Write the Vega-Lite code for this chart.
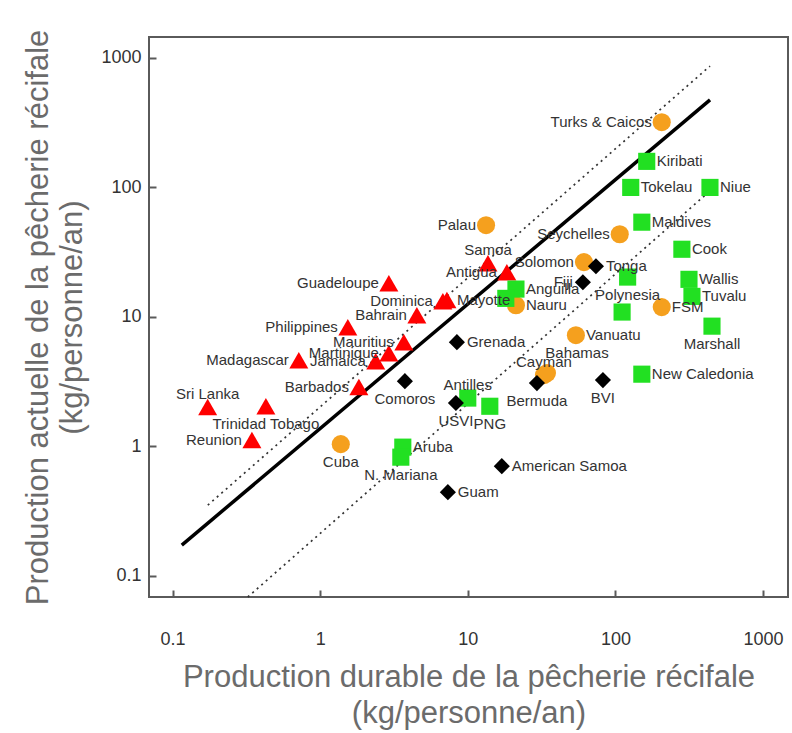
{
  "$schema": "https://vega.github.io/schema/vega-lite/v6.json",
  "width": 639,
  "height": 560,
  "autosize": {"type": "none"},
  "padding": {"left": 149, "top": 37, "right": 4, "bottom": 136},
  "background": "white",
  "config": {
    "view": {"stroke": "#5a5a5a", "strokeWidth": 2},
    "font": "Liberation Sans",
    "axis": {
      "grid": false, "domain": false,
      "tickColor": "#5a5a5a", "tickWidth": 2, "tickSize": -7,
      "labelFont": "Liberation Sans", "labelFontSize": 18, "labelColor": "#333333",
      "labelFlush": false, "labelOverlap": false,
      "titleFont": "Liberation Sans", "titleFontSize": 31, "titleFontWeight": "normal", "titleColor": "#6b6b6b"
    }
  },
  "datasets": {
    "pts": [
      {"name": "Guadeloupe", "group": "A", "x": 2.92, "y": 18.2, "pos": "left"},
      {"name": "Dominica", "group": "A", "x": 6.78, "y": 13.2, "pos": "left"},
      {"name": "Mayotte", "group": "A", "x": 7.22, "y": 13.5, "pos": "right"},
      {"name": "Bahrain", "group": "A", "x": 4.52, "y": 10.3, "pos": "left"},
      {"name": "Philippines", "group": "A", "x": 1.54, "y": 8.33, "pos": "left"},
      {"name": "Mauritius", "group": "A", "x": 3.69, "y": 6.38, "pos": "left"},
      {"name": "Martinique", "group": "A", "x": 2.92, "y": 5.24, "pos": "left"},
      {"name": "Jamaica", "group": "A", "x": 2.38, "y": 4.55, "pos": "left"},
      {"name": "Madagascar", "group": "A", "x": 0.717, "y": 4.63, "pos": "left"},
      {"name": "Barbados", "group": "A", "x": 1.83, "y": 2.87, "pos": "left"},
      {"name": "Sri Lanka", "group": "A", "x": 0.173, "y": 2.01, "pos": "above"},
      {"name": "Trinidad Tobago", "group": "A", "x": 0.429, "y": 2.04, "pos": "below"},
      {"name": "Reunion", "group": "A", "x": 0.345, "y": 1.12, "pos": "left"},
      {"name": "Samoa", "group": "A", "x": 13.7, "y": 26.0, "pos": "above"},
      {"name": "Antigua", "group": "A", "x": 18.4, "y": 22.1, "pos": "left"},
      {"name": "Turks & Caicos", "group": "B", "x": 206, "y": 319, "pos": "left"},
      {"name": "Palau", "group": "B", "x": 13.3, "y": 51.1, "pos": "left"},
      {"name": "Seychelles", "group": "B", "x": 107, "y": 43.5, "pos": "left"},
      {"name": "Solomon", "group": "B", "x": 61.2, "y": 26.5, "pos": "left"},
      {"name": "Nauru", "group": "B", "x": 21.2, "y": 12.3, "pos": "right"},
      {"name": "FSM", "group": "B", "x": 206, "y": 11.9, "pos": "right"},
      {"name": "Vanuatu", "group": "B", "x": 54.0, "y": 7.22, "pos": "right"},
      {"name": "Cayman", "group": "B", "x": 32.8, "y": 3.55, "pos": "above"},
      {"name": "Bahamas", "group": "B", "x": 34.4, "y": 3.68, "pos": "aboveright"},
      {"name": "Cuba", "group": "B", "x": 1.38, "y": 1.04, "pos": "below"},
      {"name": "Kiribati", "group": "C", "x": 163, "y": 159, "pos": "right"},
      {"name": "Tokelau", "group": "C", "x": 127, "y": 100, "pos": "right"},
      {"name": "Niue", "group": "C", "x": 437, "y": 100, "pos": "right"},
      {"name": "Maldives", "group": "C", "x": 151, "y": 53.9, "pos": "right"},
      {"name": "Cook", "group": "C", "x": 282, "y": 33.3, "pos": "right"},
      {"name": "Wallis", "group": "C", "x": 315, "y": 19.5, "pos": "right"},
      {"name": "Tuvalu", "group": "C", "x": 330, "y": 14.4, "pos": "right"},
      {"name": "Polynesia", "group": "C", "x": 121, "y": 20.3, "pos": "below"},
      {"name": "", "group": "C", "x": 111, "y": 10.9, "pos": "none"},
      {"name": "Marshall", "group": "C", "x": 451, "y": 8.48, "pos": "below"},
      {"name": "Anguilla", "group": "C", "x": 21.2, "y": 16.4, "pos": "right"},
      {"name": "", "group": "C", "x": 18.1, "y": 13.9, "pos": "none"},
      {"name": "Antilles", "group": "C", "x": 10.0, "y": 2.36, "pos": "above"},
      {"name": "PNG", "group": "C", "x": 14.1, "y": 2.04, "pos": "below"},
      {"name": "Aruba", "group": "C", "x": 3.63, "y": 0.986, "pos": "right"},
      {"name": "N. Mariana", "group": "C", "x": 3.52, "y": 0.825, "pos": "below"},
      {"name": "New Caledonia", "group": "C", "x": 151, "y": 3.61, "pos": "right"},
      {"name": "Tonga", "group": "D", "x": 73.8, "y": 24.6, "pos": "right"},
      {"name": "Fiji", "group": "D", "x": 60.2, "y": 18.5, "pos": "left"},
      {"name": "Grenada", "group": "D", "x": 8.44, "y": 6.38, "pos": "right"},
      {"name": "Comoros", "group": "D", "x": 3.75, "y": 3.19, "pos": "below"},
      {"name": "USVI", "group": "D", "x": 8.31, "y": 2.16, "pos": "below"},
      {"name": "Bermuda", "group": "D", "x": 29.4, "y": 3.08, "pos": "below"},
      {"name": "BVI", "group": "D", "x": 82.3, "y": 3.25, "pos": "below"},
      {"name": "American Samoa", "group": "D", "x": 17.0, "y": 0.703, "pos": "right"},
      {"name": "Guam", "group": "D", "x": 7.33, "y": 0.443, "pos": "right"}
    ],
    "lines": [
      {"line": "fit", "x": 0.1156, "y": 0.1726},
      {"line": "fit", "x": 437.5, "y": 474},
      {"line": "upper", "x": 0.1734, "y": 0.3515},
      {"line": "upper", "x": 437.5, "y": 866},
      {"line": "lower", "x": 0.3236, "y": 0.0686},
      {"line": "lower", "x": 445, "y": 95.7}
    ]
  },
  "layer": [
    {
      "data": {"name": "lines"},
      "transform": [{"filter": "datum.line !== 'fit'"}],
      "mark": {"type": "line", "color": "#333333", "strokeWidth": 1.7, "strokeDash": [2, 4]},
      "encoding": {
        "x": {"field": "x", "type": "quantitative",
          "scale": {"type": "log", "domain": [0.0693, 1476], "nice": false, "zero": false},
          "axis": {"values": [0.1, 1, 10, 100, 1000], "format": "~g", "labelPadding": 40,
            "title": ["Production durable de la pêcherie récifale", "(kg/personne/an)"],
            "titleLineHeight": 36, "titlePadding": 14}},
        "y": {"field": "y", "type": "quantitative",
          "scale": {"type": "log", "domain": [0.0686, 1452], "nice": false, "zero": false},
          "axis": {"values": [0.1, 1, 10, 100, 1000], "format": "~g", "labelPadding": 15,
            "title": ["Production actuelle de la pêcherie récifale", "(kg/personne/an)"],
            "titleLineHeight": 34, "titlePadding": 12}},
        "detail": {"field": "line"}
      }
    },
    {
      "data": {"name": "lines"},
      "transform": [{"filter": "datum.line === 'fit'"}],
      "mark": {"type": "line", "color": "#000000", "strokeWidth": 3.5},
      "encoding": {
        "x": {"field": "x", "type": "quantitative"},
        "y": {"field": "y", "type": "quantitative"}
      }
    },
    {
      "data": {"name": "pts"},
      "mark": {"type": "point", "filled": true, "opacity": 1, "strokeWidth": 0},
      "encoding": {
        "x": {"field": "x", "type": "quantitative"},
        "y": {"field": "y", "type": "quantitative"},
        "shape": {"field": "group", "type": "nominal", "legend": null,
          "scale": {"domain": ["A", "B", "C", "D"], "range": ["triangle-up", "circle", "square", "diamond"]}},
        "color": {"field": "group", "type": "nominal", "legend": null,
          "scale": {"domain": ["A", "B", "C", "D"], "range": ["#ff0000", "#f5a01e", "#22e022", "#000000"]}},
        "size": {"field": "group", "type": "nominal", "legend": null,
          "scale": {"domain": ["A", "B", "C", "D"], "range": [361, 260, 210, 150]}}
      }
    },
    {
      "data": {"name": "pts"},
      "transform": [{"filter": "datum.pos === 'right'"}],
      "mark": {"type": "text", "align": "left", "baseline": "middle", "dx": 10, "fontSize": 15, "color": "#333333"},
      "encoding": {"x": {"field": "x", "type": "quantitative"}, "y": {"field": "y", "type": "quantitative"}, "text": {"field": "name"}}
    },
    {
      "data": {"name": "pts"},
      "transform": [{"filter": "datum.pos === 'left'"}],
      "mark": {"type": "text", "align": "right", "baseline": "middle", "dx": -10, "fontSize": 15, "color": "#333333"},
      "encoding": {"x": {"field": "x", "type": "quantitative"}, "y": {"field": "y", "type": "quantitative"}, "text": {"field": "name"}}
    },
    {
      "data": {"name": "pts"},
      "transform": [{"filter": "datum.pos === 'above'"}],
      "mark": {"type": "text", "align": "center", "baseline": "middle", "dy": -13, "fontSize": 15, "color": "#333333"},
      "encoding": {"x": {"field": "x", "type": "quantitative"}, "y": {"field": "y", "type": "quantitative"}, "text": {"field": "name"}}
    },
    {
      "data": {"name": "pts"},
      "transform": [{"filter": "datum.pos === 'below'"}],
      "mark": {"type": "text", "align": "center", "baseline": "middle", "dy": 18, "fontSize": 15, "color": "#333333"},
      "encoding": {"x": {"field": "x", "type": "quantitative"}, "y": {"field": "y", "type": "quantitative"}, "text": {"field": "name"}}
    },
    {
      "data": {"name": "pts"},
      "transform": [{"filter": "datum.pos === 'aboveright'"}],
      "mark": {"type": "text", "align": "center", "baseline": "middle", "dx": 30, "dy": -20, "fontSize": 15, "color": "#333333"},
      "encoding": {"x": {"field": "x", "type": "quantitative"}, "y": {"field": "y", "type": "quantitative"}, "text": {"field": "name"}}
    }
  ]
}
